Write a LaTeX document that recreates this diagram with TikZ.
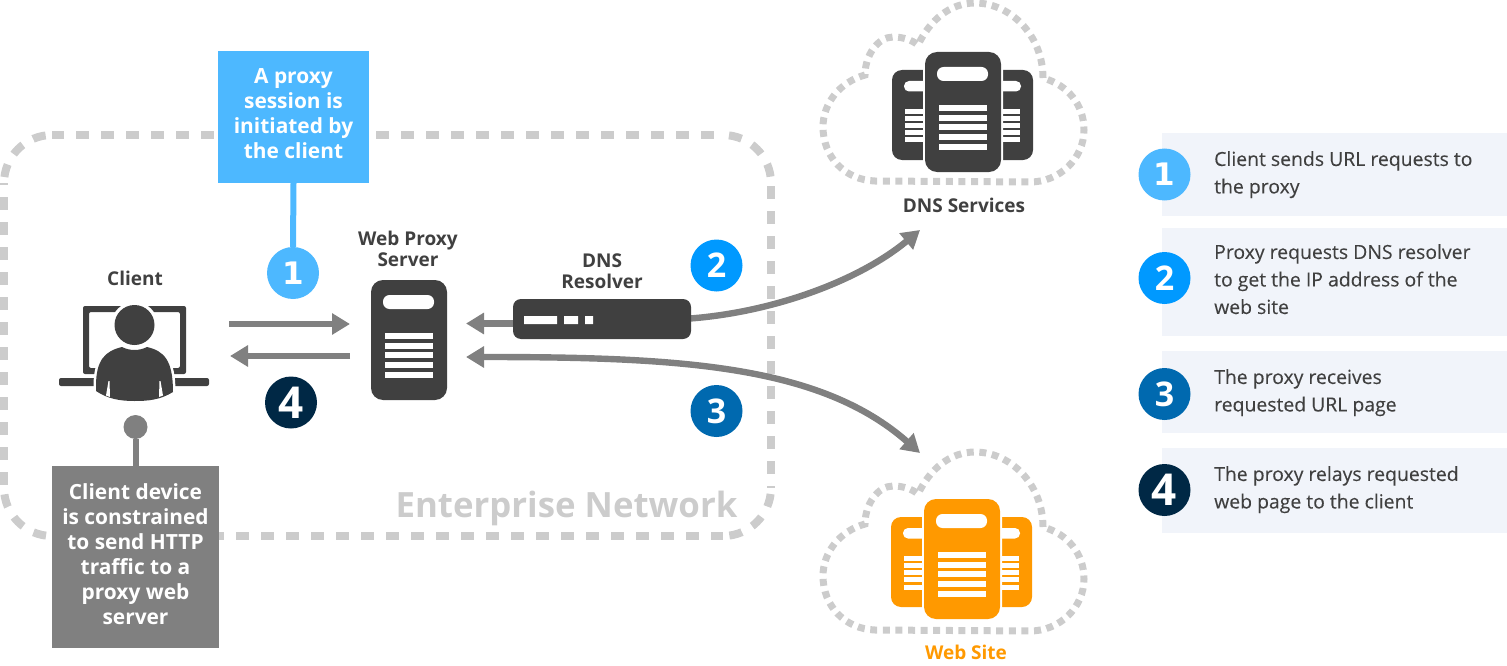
\documentclass[tikz,border=0pt]{standalone}
\usepackage{fontspec}
\setmainfont{Open Sans}
\newfontfamily\numA{DejaVu Sans}
\newfontfamily\legf[FakeBold=0.12]{Open Sans}
\definecolor{dk}{HTML}{404040}
\definecolor{gr}{HTML}{808080}
\definecolor{lg}{HTML}{CCCCCC}
\definecolor{cA}{HTML}{4DB8FF}
\definecolor{cB}{HTML}{0099FF}
\definecolor{cC}{HTML}{0069AF}
\definecolor{cD}{HTML}{002845}
\definecolor{bandc}{HTML}{F1F4FA}
\definecolor{org}{HTML}{FF9900}
\usetikzlibrary{arrows.meta}
\tikzset{
 x=1pt,y=-1pt,
 flow/.style={draw=gr,line width=6.4pt,-{Triangle[length=18pt,width=20.5pt]}},
 badge/.style={circle,minimum size=52pt,inner sep=0pt,text=white,font=\bfseries\fontsize{34}{34}\selectfont},
 badgeone/.style={badge,font=\numA\bfseries\fontsize{31}{31}\selectfont},
 badgeb/.style={badge,font=\bfseries\fontsize{44}{44}\selectfont},
 lab/.style={text=dk,font=\bfseries\fontsize{19}{21}\selectfont,align=center,inner sep=0pt},
 boxt/.style={text=white,font=\bfseries\fontsize{20.9}{25}\selectfont,align=center,inner sep=0pt},
 legt/.style={text=dk,anchor=north west,align=left,inner sep=0pt,font=\legf\fontsize{19.4}{27.5}\selectfont},
 band/.style={fill=bandc},
 net/.style={draw=lg,line width=8pt,dash pattern=on 13pt off 12pt,dash phase=#1},
 cloudline/.style={draw=lg,line width=7pt,dash pattern=on 7pt off 5.6pt},
}
\newcommand{\mainserver}[3]{% colour,left,top
 \begin{scope}[shift={(#2,#3)}]
 \fill[#1,rounded corners=12pt] (0,0) rectangle (76,120);
 \fill[white,rounded corners=6.5pt] (12,15) rectangle (63,29);
 \foreach \yy in {53,62.7,72.4,82.1,91.8}{\fill[white] (13.5,\yy) rectangle (62,\yy+6);}
 \end{scope}}
\newcommand{\farm}[3]{% colour,x offset,y offset
 \begin{scope}[shift={(#2,#3)}]
 \fill[#1,rounded corners=10pt] (892,70) rectangle (960,160);
 \fill[#1,rounded corners=10pt] (965,70) rectangle (1033,160);
 \fill[white,rounded corners=5pt] (904,81) rectangle (1021,91.5);
 \foreach \yy in {109,116.1,123.3,130.4,137.5}{\fill[white] (905,\yy) rectangle (1020,\yy+5);}
 \fill[white,rounded corners=13pt] (923,50) rectangle (1003,174);
 \end{scope}
 \mainserver{#1}{925+#2}{52+#3}}
\newcommand{\cloudpath}[2]{%
 \draw[cloudline,shift={(#1,#2)}] (1043,78) .. controls (1043,35) and (1010,3) .. (975,3)
 .. controls (950,3) and (930,20) .. (918,45)
 .. controls (912,40) and (903,37) .. (893,37)
 .. controls (878,37) and (865,55) .. (865,75)
 .. controls (840,82) and (823,103) .. (823,127)
 .. controls (823,157) and (845,180) .. (875,181)
 -- (1030,182) .. controls (1060,182) and (1084,158) .. (1084,130)
 .. controls (1084,105) and (1068,85) .. (1043,78);}
\begin{document}
\begin{tikzpicture}
\useasboundingbox (0,0) rectangle (1507,666);
% enterprise boundary
\draw[net=1] (52,135) -- (723,135);
\draw[net=22] (771,183) -- (771,488);
\draw[net=16] (52,536) -- (723,536);
\draw[net=11] (4,183) -- (4,488);
\draw[net=19] (4,183) .. controls (4,156.5) and (25.5,135) .. (52,135);
\draw[net=19] (723,135) .. controls (749.5,135) and (771,156.5) .. (771,183);
\draw[net=19] (771,488) .. controls (771,514.5) and (749.5,536) .. (723,536);
\draw[net=19] (52,536) .. controls (25.5,536) and (4,514.5) .. (4,488);
\node[text=lg,font=\bfseries\fontsize{34.8}{35}\selectfont,inner sep=0pt] (ent) at (566.5,508) {Enterprise Network};
% clouds
\cloudpath{0}{0}
\cloudpath{0}{449}
\farm{dk}{0}{0}
\farm{org}{-1}{447}
\node[lab] (dnssvc) at (964,205) {DNS Services};
\node[lab,text=org] (websvc) at (966,652) {Web Site};
% client
\fill[dk,even odd rule,rounded corners=2pt] (83,306) rectangle (186,374) (89,312) rectangle (180,368);
\fill[dk,rounded corners=2pt] (59,378) rectangle (209,386);
\draw[white,line width=2.5pt,fill=white] (134.5,325) circle (22);
\draw[white,line width=5pt,fill=dk] (96,386) .. controls (96,360) and (105,351) .. (122,347)
 .. controls (130,351) and (139,351) .. (147,347)
 .. controls (164,351) and (173,360) .. (173,392)
 .. controls (160,400) and (148,401) .. (134.5,401)
 .. controls (120,401) and (108,399) .. (96,391) -- cycle;
\fill[dk] (134.5,325) circle (20);
\fill[dk] (96,386) .. controls (96,360) and (105,351) .. (122,347)
 .. controls (130,351) and (139,351) .. (147,347)
 .. controls (164,351) and (173,360) .. (173,392)
 .. controls (160,400) and (148,401) .. (134.5,401)
 .. controls (120,401) and (108,399) .. (96,391) -- cycle;
\fill[white] (108.5,381) -- (109.5,381) -- (110,397) -- (106,395.5) -- cycle;
\fill[white] (160.5,381) -- (159.5,381) -- (159,397) -- (163,395.5) -- cycle;
\node[lab] (client) at (135,278) {Client};
\node[lab] (proxy) at (408,249) {Web Proxy\\Server};
\node[lab] (dnsr) at (602,271) {DNS\\Resolver};
% proxy server
\mainserver{dk}{371}{280}
\coordinate (proxyw1) at (350,324);
\coordinate (proxyw2) at (350,356);
\coordinate (proxye1) at (466,323.5);
\coordinate (proxye2) at (466,357);
\coordinate (cl1) at (229,324);
\coordinate (cl2) at (230,356);
\coordinate (dnstip) at (920,230);
\coordinate (webtip) at (920,453);
% resolver
\draw[flow] (513,323.5) -- (proxye1);
\draw[flow] (690,318.5) .. controls (775,312) and (860,280) .. (dnstip);
\draw[flow,{Triangle[length=18pt,width=20.5pt]}-{Triangle[length=18pt,width=20.5pt]}] (proxye2) .. controls (680,357) and (820,365) .. (webtip);
\node[fill=dk,rounded corners=8pt,minimum width=178pt,minimum height=40pt,inner sep=0pt] (res) at (602,319) {};
\fill[white] (524,316) rectangle (557,324) (564,316) rectangle (578,324) (585,316) rectangle (593,324);
% client arrows
\draw[flow] (cl1) -- (proxyw1);
\draw[flow] (proxyw2) -- (cl2);
% callouts
\node[fill=cA,minimum width=151pt,minimum height=132pt,inner sep=0pt] (bluebox) at (293.5,117) {};
\node[boxt] at (293.5,114) {A proxy\\session is\\initiated by\\the client};
\node[badgeone,fill=cA] (n1) at (293,273) {1};
\draw[cA,line width=6pt] (bluebox.south) -- (n1.north);
\node[fill=gr,minimum width=167pt,minimum height=182pt,inner sep=0pt] (graybox) at (135.5,557) {};
\node[boxt] at (135.5,554) {Client device\\is constrained\\to send HTTP\\traffic to a\\proxy web\\server};
\node[circle,fill=gr,minimum size=24pt,inner sep=0pt] (dot) at (135.5,427) {};
\draw[gr,line width=6pt] (dot.south) -- (graybox.north);
\node[badge,fill=cB] (n2) at (716.5,265.5) {2};
\node[badge,fill=cC] (n3) at (716.5,411) {3};
\node[badgeb,fill=cD] (n4) at (291,402.5) {4};
% legend
\fill[band] (1162,133) rectangle (1507,215.5);
\fill[band] (1162,228) rectangle (1507,336);
\fill[band] (1162,351) rectangle (1507,433);
\fill[band] (1162,448) rectangle (1507,532.5);
\node[badgeone,fill=cA] (l1) at (1164.5,174.5) {1};
\node[badge,fill=cB] (l2) at (1164.5,278) {2};
\node[badge,fill=cC] (l3) at (1164.5,394) {3};
\node[badgeb,fill=cD] (l4) at (1164.5,490) {4};
\node[legt] (t1) at (1214,151) {Client sends URL requests to\\the proxy};
\node[legt] (t2) at (1214,244) {Proxy requests DNS resolver\\to get the IP address of the\\web site};
\node[legt] (t3) at (1214,369) {The proxy receives\\requested URL page};
\node[legt] (t4) at (1214,466) {The proxy relays requested\\web page to the client};
\end{tikzpicture}
\end{document}
